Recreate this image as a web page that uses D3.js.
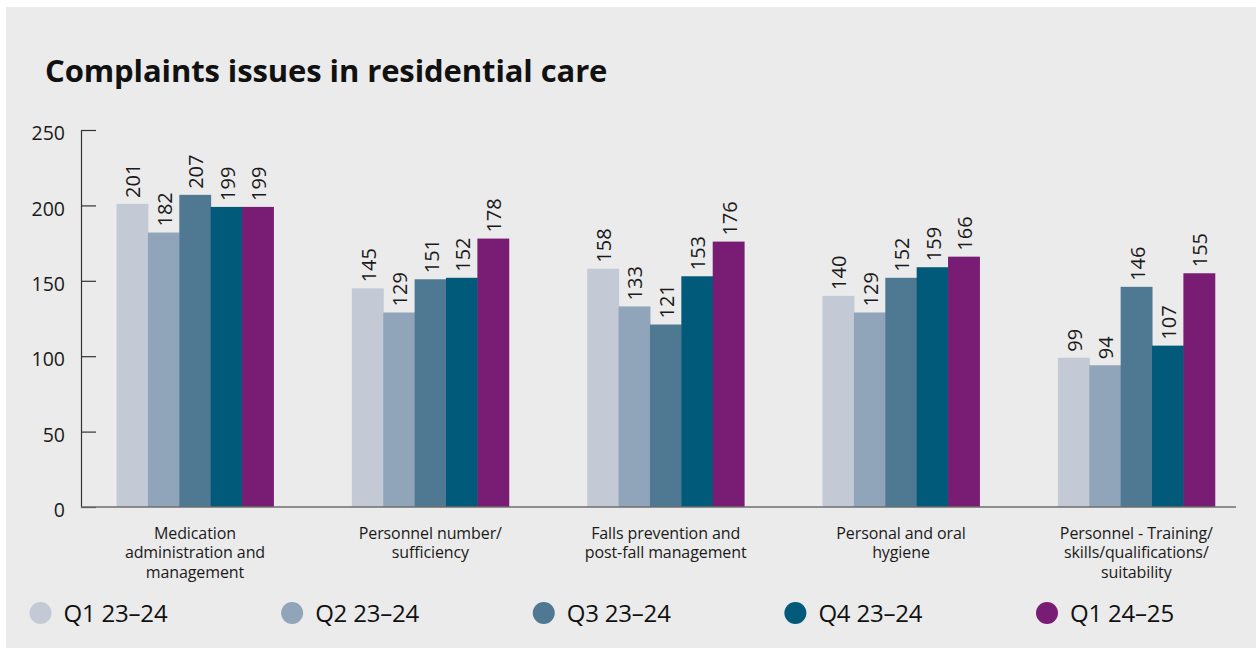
<!DOCTYPE html>
<html>
<head>
<meta charset="utf-8">
<script src="https://cdn.jsdelivr.net/npm/d3@7"></script>
<style>
  html, body { margin: 0; padding: 0; background: #ffffff; }
  svg { display: block; font-family: "Open Sans", "Noto Sans", sans-serif; }
</style>
</head>
<body>
<svg id="chart" width="1256" height="648"></svg>
<script>
// Complaint issue categories (line breaks mark label wrapping)
const categories = [
  "Medication\nadministration and\nmanagement",
  "Personnel number/\nsufficiency",
  "Falls prevention and\npost-fall management",
  "Personal and oral\nhygiene",
  "Personnel - Training/\nskills/qualifications/\nsuitability"
];

const seriesNames = ["Q1 23–24", "Q2 23–24", "Q3 23–24", "Q4 23–24", "Q1 24–25"];

// Number of complaints per category, one array per quarter
const q1_2324 = [201, 145, 158, 140, 99];
const q2_2324 = [182, 129, 133, 129, 94];
const q3_2324 = [207, 151, 121, 152, 146];
const q4_2324 = [199, 152, 153, 159, 107];
const q1_2425 = [199, 178, 176, 166, 155];

const yTicks = [0, 50, 100, 150, 200, 250];

const seriesColors = ["#c3cad6", "#91a5ba", "#4f7892", "#015a7a", "#781d73"];

const seriesValues = [q1_2324, q2_2324, q3_2324, q4_2324, q1_2425];

const svg = d3.select("#chart");

// Panel background
svg.append("rect")
  .attr("x", 6).attr("y", 7)
  .attr("width", 1250).attr("height", 641)
  .attr("fill", "#ebebeb");

// Title
svg.append("text")
  .attr("x", 45).attr("y", 82)
  .attr("font-size", 31)
  .attr("font-weight", 700)
  .attr("letter-spacing", -0.1)
  .attr("fill", "#111")
  .text("Complaints issues in residential care");

const y = d3.scaleLinear().domain([0, 250]).range([507, 130]);

const x0 = d3.scaleBand()
  .domain(categories)
  .range([77.3, 1254])
  .paddingInner(1 / 3)
  .paddingOuter(1 / 6);

const x1 = d3.scaleBand()
  .domain(seriesNames)
  .range([0, x0.bandwidth()]);

const color = d3.scaleOrdinal().domain(seriesNames).range(seriesColors);

// Bars
const groups = svg.append("g").selectAll("g")
  .data(categories)
  .join("g")
  .attr("transform", d => `translate(${x0(d)},0)`);

const cells = groups.selectAll("g.cell")
  .data((c, ci) => seriesNames.map((s, si) => ({ series: s, value: seriesValues[si][ci] })))
  .join("g")
  .attr("class", "cell");

cells.append("rect")
  .attr("x", d => x1(d.series))
  .attr("y", d => y(d.value))
  .attr("width", x1.bandwidth() + 0.5)
  .attr("height", d => y(0) - y(d.value))
  .attr("fill", d => color(d.series));

// Value labels, rotated to read bottom-to-top
cells.append("text")
  .attr("transform", d => `translate(${x1(d.series) + x1.bandwidth() / 2 + 1},${y(d.value) - 6}) rotate(-90)`)
  .attr("dy", "0.36em")
  .attr("font-size", 20)
  .attr("fill", "#1a1a1a")
  .text(d => d.value);

// Y axis with inward ticks
const yAxis = d3.axisLeft(y)
  .tickValues(yTicks)
  .tickSizeInner(-15)
  .tickSizeOuter(0)
  .tickPadding(16)
  .tickFormat(d3.format("d"));

const yg = svg.append("g")
  .attr("transform", "translate(81,0)")
  .call(yAxis);
yg.select(".domain").attr("stroke", "#333").attr("stroke-width", 1.2);
yg.selectAll(".tick line").attr("stroke", "#333").attr("stroke-width", 1.2);
yg.selectAll(".tick text")
  .attr("font-size", 19.5)
  .attr("font-family", "Open Sans, sans-serif")
  .attr("fill", "#1a1a1a")
  .attr("dy", "0.5em");

// X baseline
svg.append("line")
  .attr("x1", 81).attr("x2", 1236)
  .attr("y1", y(0)).attr("y2", y(0))
  .attr("stroke", "#6e6e6e")
  .attr("stroke-width", 1.5);

// Category labels
const catLabels = svg.append("g").selectAll("text")
  .data(categories)
  .join("text")
  .attr("x", d => x0(d) + x0.bandwidth() / 2)
  .attr("y", 538.5)
  .attr("text-anchor", "middle")
  .attr("font-size", 16)
  .attr("letter-spacing", -0.1)
  .attr("fill", "#1a1a1a");

catLabels.selectAll("tspan")
  .data(d => d.split("\n"))
  .join("tspan")
  .attr("x", function () { return d3.select(this.parentNode).attr("x"); })
  .attr("dy", (d, i) => i === 0 ? 0 : 19.5)
  .text(d => d);

// Legend
const legendX = d3.scalePoint().domain(seriesNames).range([40.5, 1047]);

const legend = svg.append("g").selectAll("g")
  .data(seriesNames)
  .join("g")
  .attr("transform", d => `translate(${legendX(d)},613)`);

legend.append("circle")
  .attr("r", 11)
  .attr("fill", d => color(d));

legend.append("text")
  .attr("x", 23)
  .attr("dy", "0.36em")
  .attr("font-size", 24)
  .attr("letter-spacing", -0.2)
  .attr("fill", "#111")
  .text(d => d);
</script>
</body>
</html>
